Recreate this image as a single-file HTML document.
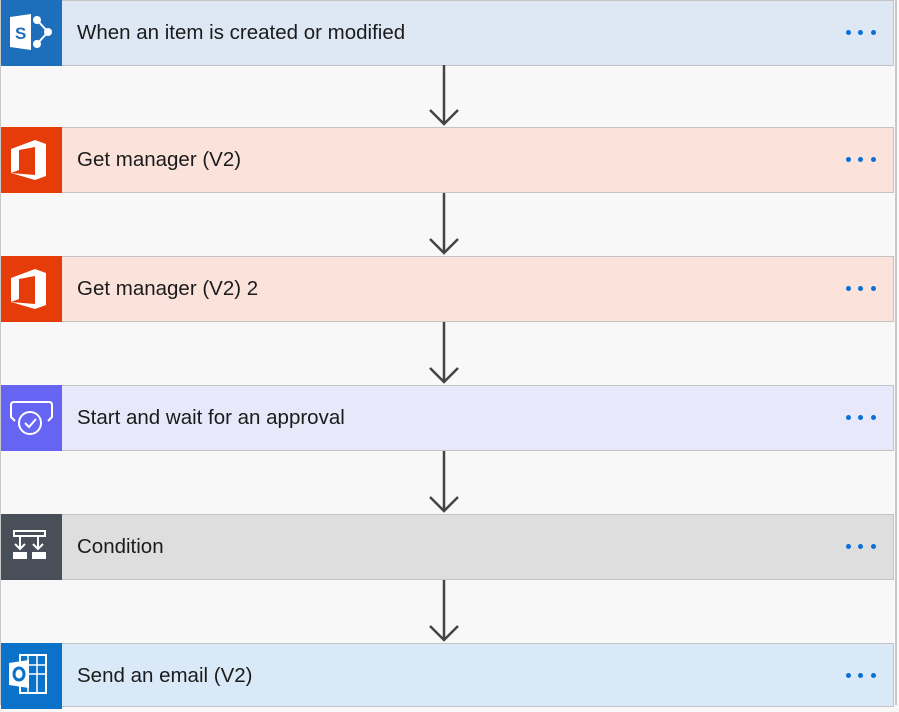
<!DOCTYPE html>
<html><head><meta charset="utf-8"><style>
body{margin:0;width:899px;height:705px;background:#f8f8f8;position:relative;overflow:hidden;font-family:"Liberation Sans",sans-serif}
.frame{position:absolute;left:0;top:0;width:897px;height:705px;border-right:2px solid #c8c8c8;border-left:1px solid #c8c8c8;box-sizing:border-box}
.card{position:absolute;left:1px;width:893px;height:66px;box-sizing:border-box;border:1px solid #c4c4c4;border-left:none}
.ic{position:absolute;left:0;top:-1px;width:61px;height:66px}
.t{position:absolute;left:76px;top:0;line-height:64px;font-size:20.5px;color:#1b1b1b}
.dots{position:absolute;left:842px;top:29px}
.dots i{position:absolute;width:5px;height:5px;border-radius:50%;background:#0a6fd6}
svg.ar{position:absolute;left:428px}
</style></head><body>
<div class="frame"></div>

<div class="card" style="top:0;background:#dde8f4">
<div class="ic" style="background:#1e6fbb"><svg width="61" height="64"><path d="M9 17 L30 14 L30 50 L9 47Z" fill="#fff"/><text x="14" y="39" font-size="17" font-weight="bold" fill="#1e6fbb" font-family="Liberation Sans">S</text><circle cx="36" cy="20" r="4" fill="#fff"/><circle cx="47" cy="32" r="4" fill="#fff"/><circle cx="36" cy="44" r="4" fill="#fff"/><path d="M36 20 L47 32 L36 44" stroke="#fff" stroke-width="2" fill="none"/></svg></div>
<div class="t">When an item is created or modified</div>
<div class="dots"><i style="left:3px"></i><i style="left:15px"></i><i style="left:28px"></i></div></div>

<div class="card" style="top:127px;background:#fbe3dc">
<div class="ic" style="background:#e63c0a"><svg width="61" height="66"><path d="M10 22 L34 13 L45 17 L45 49 L34 53 L10 46 L34 48 L34 20 L18 23 L18 43 L10 46Z" fill="#fff"/></svg></div>
<div class="t">Get manager (V2)</div>
<div class="dots"><i style="left:3px"></i><i style="left:15px"></i><i style="left:28px"></i></div></div>

<div class="card" style="top:256px;background:#fbe3dc">
<div class="ic" style="background:#e63c0a"><svg width="61" height="66"><path d="M10 22 L34 13 L45 17 L45 49 L34 53 L10 46 L34 48 L34 20 L18 23 L18 43 L10 46Z" fill="#fff"/></svg></div>
<div class="t">Get manager (V2) 2</div>
<div class="dots"><i style="left:3px"></i><i style="left:15px"></i><i style="left:28px"></i></div></div>

<div class="card" style="top:385px;background:#e8e8fb">
<div class="ic" style="background:#6664f2"><svg width="61" height="66"><path d="M14 36 L10 32 L10 20 Q10 17 13 17 L48 17 Q51 17 51 20 L51 32 L47 36" stroke="#fff" stroke-width="2" fill="none"/><circle cx="29" cy="38" r="11" stroke="#fff" stroke-width="2" fill="none"/><path d="M24 38 L28 42 L35 34" stroke="#fff" stroke-width="2" fill="none"/></svg></div>
<div class="t">Start and wait for an approval</div>
<div class="dots"><i style="left:3px"></i><i style="left:15px"></i><i style="left:28px"></i></div></div>

<div class="card" style="top:514px;background:#dedede">
<div class="ic" style="background:#484f58"><svg width="61" height="66"><rect x="13" y="17" width="31" height="5" stroke="#fff" stroke-width="2" fill="none"/><path d="M19 22 V34 M14 30 L19 35 L24 30 M37 22 V34 M32 30 L37 35 L42 30" stroke="#fff" stroke-width="2" fill="none"/><rect x="12" y="38" width="14" height="7" fill="#fff"/><rect x="31" y="38" width="14" height="7" fill="#fff"/></svg></div>
<div class="t">Condition</div>
<div class="dots"><i style="left:3px"></i><i style="left:15px"></i><i style="left:28px"></i></div></div>

<div class="card" style="top:643px;background:#d9e9f7;height:64px">
<div class="ic" style="background:#0a72c9"><svg width="61" height="64"><path d="M19 12 H45 V50 H19Z" stroke="#fff" stroke-width="2" fill="none"/><path d="M27 12 V50 M36 12 V50 M19 22 H45 M19 31 H45" stroke="#fff" stroke-width="1.5"/><path d="M8 20 L28 17 L28 45 L8 42Z" fill="#fff"/><ellipse cx="18" cy="31" rx="5" ry="6" stroke="#0a72c9" stroke-width="3" fill="none"/></svg></div>
<div class="t">Send an email (V2)</div>
<div class="dots"><i style="left:3px"></i><i style="left:15px"></i><i style="left:28px"></i></div></div>

<svg class="ar" style="top:65px" width="32" height="62"><path d="M16 0 V59 M2 45 L16 59 L30 45" stroke="#444" stroke-width="2.5" fill="none"/></svg>
<svg class="ar" style="top:193px" width="32" height="63"><path d="M16 0 V60 M2 46 L16 60 L30 46" stroke="#444" stroke-width="2.5" fill="none"/></svg>
<svg class="ar" style="top:322px" width="32" height="63"><path d="M16 0 V60 M2 46 L16 60 L30 46" stroke="#444" stroke-width="2.5" fill="none"/></svg>
<svg class="ar" style="top:451px" width="32" height="63"><path d="M16 0 V60 M2 46 L16 60 L30 46" stroke="#444" stroke-width="2.5" fill="none"/></svg>
<svg class="ar" style="top:580px" width="32" height="63"><path d="M16 0 V60 M2 46 L16 60 L30 46" stroke="#444" stroke-width="2.5" fill="none"/></svg>
</body></html>
